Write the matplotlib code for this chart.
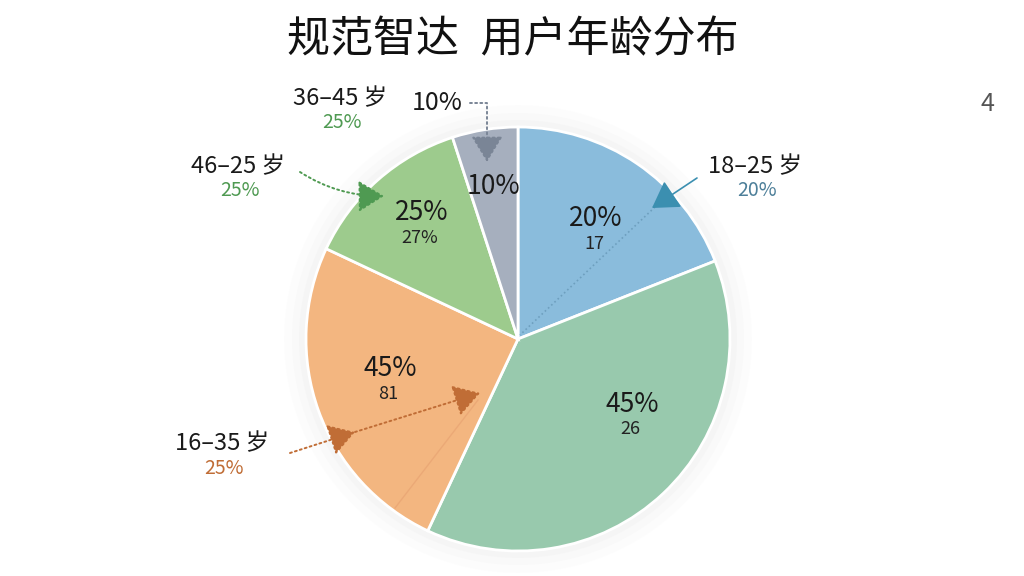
import matplotlib
matplotlib.use('Agg')
import matplotlib.pyplot as plt
from matplotlib.patches import Circle

plt.rcParams['font.family'] = ['Noto Sans CJK SC', 'DejaVu Sans']

H = 576

title = '规范智达 用户年龄分布'
shares = [19, 38, 25, 13, 5]
inner_main = ['20%', '45%', '45%', '25%', '10%']
inner_sub = ['17', '26', '81', '27%', '']
outer_names = ['18–25 岁', '16–35 岁', '46–25 岁', '36–45 岁']
outer_pcts = ['20%', '25%', '25%', '25%']
corner_note = '4'

# layout / style
colors = ['#8abcdc', '#98c9ad', '#f3b680', '#9dcb8d', '#a6afbe']
inner_pos = [(596, 219), (632, 404), (390, 369), (422, 213), (493, 186)]
outer_pos = [(755, 167), (222, 444), (238, 167), (340, 99)]
outer_cols = ['#4d7f99', '#c06d36', '#4f9a52', '#4f9a52']
center = (518, 339)
radius = 212


def px(x, y):
    return (x, H - y)


fig = plt.figure(figsize=(10.24, 5.76), dpi=100)
ax = fig.add_axes([0, 0, 1, 1])

# faint halo behind the pie
for r, a in [(234, 0.12), (226, 0.2), (219, 0.3)]:
    ax.add_patch(Circle(px(*center), r, color='#eeeeee', alpha=a, zorder=0, lw=0))

ax.pie(shares, colors=colors, startangle=90, counterclock=False,
       center=px(*center), radius=radius,
       wedgeprops=dict(edgecolor='white', linewidth=2))
ax.set_xlim(0, 1024)
ax.set_ylim(0, H)
ax.set_aspect('equal')
ax.axis('off')

ax.text(*px(513, 40), title.replace(' ', '\u2002'), ha='center', va='center',
        fontsize=31, color='#111111')
ax.text(*px(987, 104), corner_note, ha='center', va='center', fontsize=18, color='#555555')

for (x, y), m, s in zip(inner_pos, inner_main, inner_sub):
    ax.text(*px(x, y), m, ha='center', va='center', fontsize=19, color='#1a1a1a', zorder=5)
    if s:
        ax.text(*px(x - 2, y + 25), s, ha='center', va='center', fontsize=13, color='#222222', zorder=5)

for (x, y), n, p, c in zip(outer_pos, outer_names, outer_pcts, outer_cols):
    ax.text(*px(x, y), n, ha='center', va='center', fontsize=17, color='#1a1a1a')
    ax.text(*px(x + 2, y + 24), p, ha='center', va='center', fontsize=14, color=c)

# extra label next to the grey slice
ax.text(*px(437, 103), inner_main[4], ha='center', va='center', fontsize=18, color='#1a1a1a')


def leader(start, end, color, ls=':', conn='arc3,rad=0', lw=1.4, alpha=1.0):
    ax.annotate('', xy=px(*end), xytext=px(*start),
                arrowprops=dict(arrowstyle='-|>,head_length=0.9,head_width=0.55',
                                linestyle=ls, color=color, lw=lw, alpha=alpha,
                                connectionstyle=conn, mutation_scale=18,
                                shrinkA=0, shrinkB=0),
                zorder=6)


# grey slice leader
leader((470, 103), (487, 162), '#7a8596', conn='angle,angleA=0,angleB=90,rad=0')
# 46-25 leader
leader((300, 172), (384, 196), '#4f9a52', conn='arc3,rad=0.15')
# 18-25 leader
ax.plot([655, 520], [H - 207, H - 335], ls=':', color='#5b8cab', lw=1.2, alpha=0.6, zorder=4)
leader((697, 178), (652, 208), '#3b8fb0', ls='-', lw=1.2)
# 16-35 leader
leader((290, 453), (355, 432), '#c06d36')
leader((355, 432), (480, 393), '#c06d36')
ax.plot([395, 478], [H - 508, H - 400], color='#e6a070', lw=1.0, alpha=0.6, zorder=4)

fig.savefig('out.png', dpi=100, facecolor='white')
